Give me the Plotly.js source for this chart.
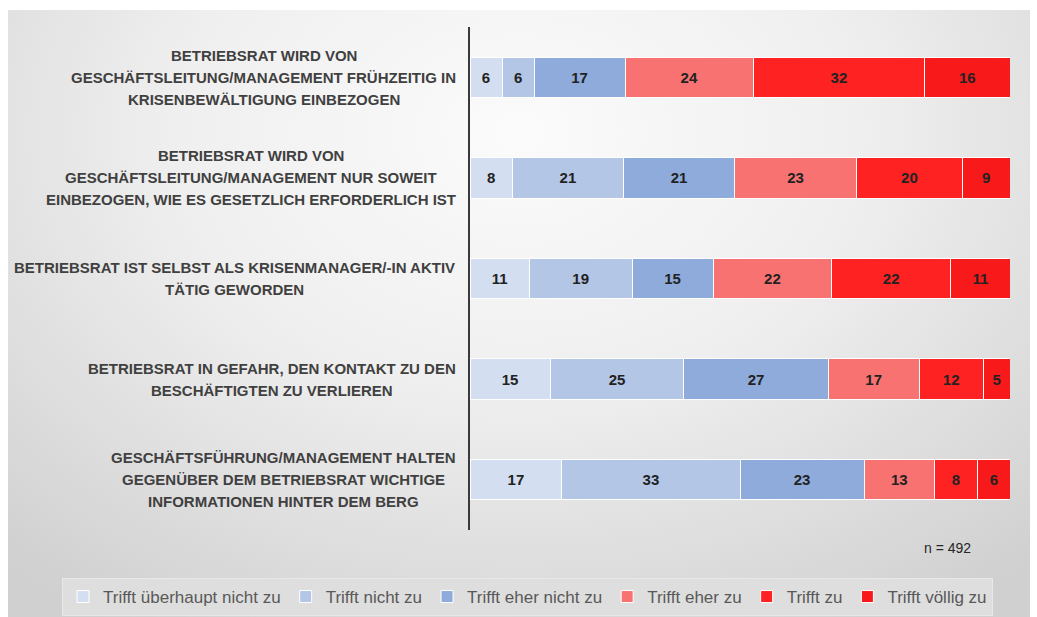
<!DOCTYPE html>
<html>
<head>
<meta charset="utf-8">
<script src="https://cdn.plot.ly/plotly-3.0.1.min.js"></script>
<style>
  html, body { margin:0; padding:0; background:#ffffff; }
  #bg { position:absolute; left:8px; top:10px; width:1022px; height:607px;
        background: radial-gradient(ellipse 75% 95% at 50% 20%, #fbfbfb 0%, #efefef 45%, #d0d0d0 100%); }
  #chart { position:absolute; left:0; top:0; width:1037px; height:617px; }
</style>
</head>
<body>
<div id="bg"></div>
<div id="chart"></div>
<script>
// Categories (top to bottom), lines of each label
const categories = [
  "BETRIEBSRAT WIRD VON<br>GESCHÄFTSLEITUNG/MANAGEMENT FRÜHZEITIG IN<br>KRISENBEWÄLTIGUNG EINBEZOGEN",
  "BETRIEBSRAT WIRD VON<br>GESCHÄFTSLEITUNG/MANAGEMENT NUR SOWEIT<br>EINBEZOGEN, WIE ES GESETZLICH ERFORDERLICH IST",
  "BETRIEBSRAT IST SELBST ALS KRISENMANAGER/-IN AKTIV<br>TÄTIG GEWORDEN",
  "BETRIEBSRAT IN GEFAHR, DEN KONTAKT ZU DEN<br>BESCHÄFTIGTEN ZU VERLIEREN",
  "GESCHÄFTSFÜHRUNG/MANAGEMENT HALTEN<br>GEGENÜBER DEM BETRIEBSRAT WICHTIGE<br>INFORMATIONEN HINTER DEM BERG"
];

const seriesNames = [
  "Trifft überhaupt nicht zu",
  "Trifft nicht zu",
  "Trifft eher nicht zu",
  "Trifft eher zu",
  "Trifft zu",
  "Trifft völlig zu"
];

// values per series, in category order
const ueberhauptNicht = [6, 8, 11, 15, 17];
const nicht           = [6, 21, 19, 25, 33];
const eherNicht       = [17, 21, 15, 27, 23];
const eherZu          = [24, 23, 22, 17, 13];
const zu              = [32, 20, 22, 12, 8];
const voelligZu       = [16, 9, 11, 5, 6];

const sampleNote = "n = 492";

const seriesValues = [ueberhauptNicht, nicht, eherNicht, eherZu, zu, voelligZu];
const colors = ["#d3dff0", "#b3c6e6", "#8eabdb", "#f87272", "#ff2222", "#f81a1a"];

const traces = seriesNames.map((name, i) => ({
  type: "bar",
  orientation: "h",
  name: name,
  y: categories,
  x: seriesValues[i],
  text: seriesValues[i].map(String),
  texttemplate: "%{text}",
  textposition: "inside",
  insidetextanchor: "middle",
  constraintext: "none",
  textangle: 0,
  textfont: { family: "Liberation Sans, Arial, sans-serif", size: 15, color: "#222222", weight: "bold" },
  marker: { color: colors[i], line: { color: "#ffffff", width: 1 } },
  hoverinfo: "skip"
}));

// geometry (pixels) of the plot area
const W = 1037, H = 617;
const M = { l: 470, r: 27, t: 27, b: 87, autoexpand: false };
const plotW = W - M.l - M.r;
const plotH = H - M.t - M.b;

// measure label lines to center them within a right-aligned block
const labelFont = 'bold 15px "Liberation Sans", Arial, sans-serif';
const cv = document.createElement("canvas").getContext("2d");
cv.font = labelFont;
const labelRight = 456;
const lineStep = 22;
const annotations = [];
categories.forEach(cat => {
  const lines = cat.split("<br>");
  const maxW = Math.max(...lines.map(l => cv.measureText(l).width));
  const cx = labelRight - maxW / 2;
  lines.forEach((ln, i) => {
    annotations.push({
      xref: "paper", yref: "y",
      x: (cx - M.l) / plotW, y: cat,
      xanchor: "center", yanchor: "middle",
      yshift: -(i - (lines.length - 1) / 2) * lineStep,
      text: "<b>" + ln + "</b>",
      showarrow: false,
      font: { family: "Liberation Sans, Arial, sans-serif", size: 15, color: "#404040" }
    });
  });
});
annotations.push({
  xref: "paper", yref: "paper",
  x: (947 - M.l) / plotW, y: -(548 - (M.t + plotH)) / plotH,
  xanchor: "center", yanchor: "middle",
  text: sampleNote, showarrow: false,
  font: { family: "Liberation Sans, Arial, sans-serif", size: 14, color: "#262626" }
});

const layout = {
  width: W, height: H,
  margin: M,
  paper_bgcolor: "rgba(0,0,0,0)",
  plot_bgcolor: "rgba(0,0,0,0)",
  barmode: "stack",
  barnorm: "percent",
  bargap: 0.6,
  showlegend: true,
  legend: {
    orientation: "h",
    traceorder: "normal",
    xref: "paper", yref: "paper",
    x: (62 - M.l) / plotW, xanchor: "left",
    y: -(597 - (M.t + plotH)) / plotH, yanchor: "middle",
    bgcolor: "#dedede",
    bordercolor: "#e8e8e8", borderwidth: 1,
    font: { family: "Liberation Sans, Arial, sans-serif", size: 17, color: "#595959" },
    itemwidth: 30
  },
  xaxis: { visible: false, range: [0, 100], fixedrange: true },
  yaxis: {
    type: "category",
    autorange: "reversed",
    showticklabels: false,
    showgrid: false, zeroline: false, ticks: "",
    showline: true, linecolor: "#3a3a3a", linewidth: 2,
    fixedrange: true
  },
  annotations: annotations
};

Plotly.newPlot("chart", traces, layout, { displayModeBar: false, staticPlot: true });
</script>
</body>
</html>
